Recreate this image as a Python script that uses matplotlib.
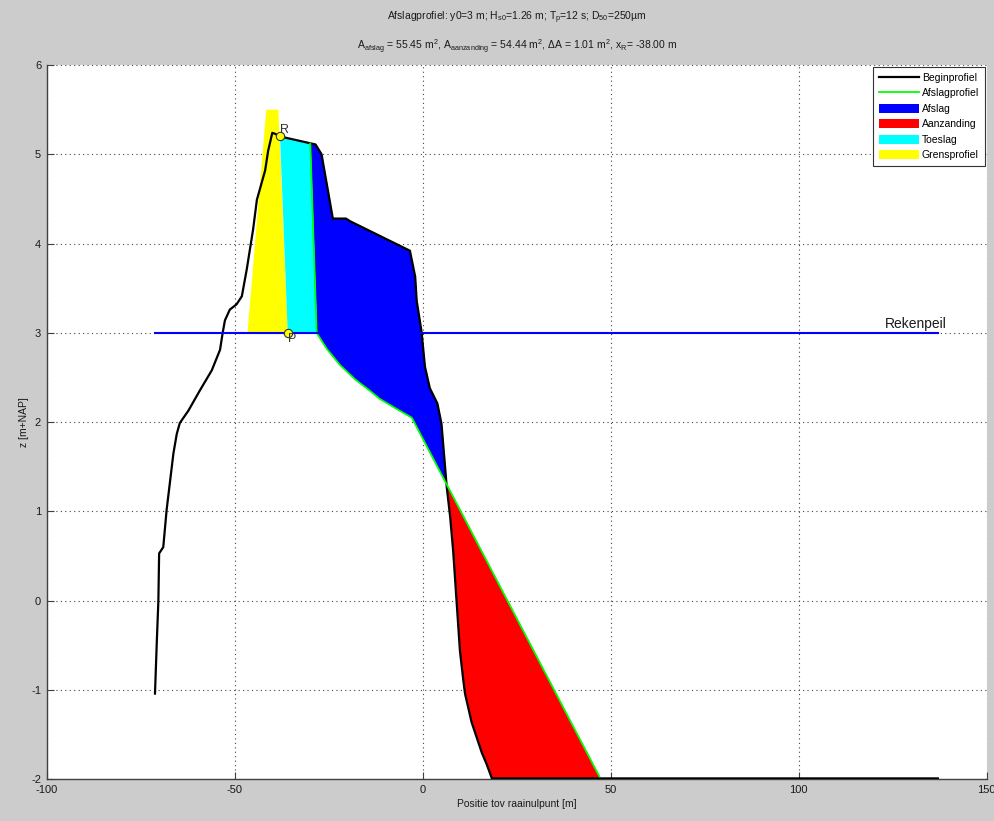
import numpy as np
import matplotlib
matplotlib.use('Agg')
import matplotlib.pyplot as plt
from matplotlib.patches import Patch
from matplotlib.lines import Line2D

plt.rcParams['font.family'] = ['Liberation Sans', 'DejaVu Sans']
plt.rcParams['mathtext.default'] = 'regular'
plt.rcParams['axes.unicode_minus'] = False

# ---- data ----
begin_x = [-71.2, -70.7, -70.3, -70.1, -69.0, -68.1, -66.3, -65.4, -64.6, -62.3,
           -59.2, -56.1, -53.9, -53.2, -52.6, -51.3, -49.5, -48.1, -46.8, -45.1,
           -44.1, -43.3, -41.9, -41.1, -40.0, -39.3, -37.95, -28.5, -26.9, -23.9,
           -20.4, -19.3, -3.4, -2.0, -1.6, -0.3, 0.6, 1.9, 3.9, 5.0,
           6.4, 7.3, 8.1, 9.0, 9.9, 10.8, 11.25, 13.0, 15.7, 17.0,
           18.4, 137.0]
begin_z = [-1.04, -0.44, 0.0, 0.53, 0.60, 1.02, 1.65, 1.87, 1.99, 2.13,
           2.36, 2.58, 2.81, 3.00, 3.14, 3.26, 3.32, 3.41, 3.71, 4.16,
           4.49, 4.61, 4.82, 5.04, 5.24, 5.23, 5.20, 5.11, 5.00, 4.28,
           4.28, 4.25, 3.92, 3.63, 3.36, 3.01, 2.62, 2.38, 2.21, 1.98,
           1.27, 0.94, 0.56, 0.0, -0.56, -0.89, -1.04, -1.36, -1.70, -1.83,
           -1.99, -1.99]

afslag_x = [-29.9, -28.2, -25.5, -22.0, -18.0, -14.0, -11.4, -7.0, -2.9, 47.0]
afslag_z = [5.12, 3.00, 2.82, 2.64, 2.48, 2.35, 2.26, 2.15, 2.05, -1.97]

grens_x = [-46.6, -41.6, -38.4, -35.9]
grens_z = [3.0, 5.5, 5.5, 3.0]

rekenpeil = 3.0
x_R, z_R = -37.95, 5.20
x_P, z_P = -35.9, 3.0

title1 = r'Afslagprofiel: y0=3 m; H$_{s0}$=1.26 m; T$_{p}$=12 s; D$_{50}$=250µm'
title2 = (r'A$_{afslag}$ = 55.45 m$^{2}$, A$_{aanzanding}$ = 54.44 m$^{2}$, '
          r'ΔA = 1.01 m$^{2}$, x$_{R}$= -38.00 m')

xticks = [-100, -50, 0, 50, 100, 150]
yticks = [-2, -1, 0, 1, 2, 3, 4, 5, 6]

# ---- figure ----
fig = plt.figure(figsize=(9.95, 8.21), dpi=100, facecolor='#cccccc')
ax = fig.add_axes([46.7 / 995, 1 - 779.3 / 821, 940 / 995, 714.3 / 821])
ax.set_facecolor('white')

bx = np.array(begin_x)
bz = np.array(begin_z)
axx = np.array(afslag_x)
azz = np.array(afslag_z)

# Grensprofiel
ax.fill(grens_x, grens_z, color='#ffff00', lw=0, zorder=1)

# Toeslag polygon
m = (bx > x_R) & (bx < axx[0])
tx = [x_R] + list(bx[m]) + [axx[0], axx[1], x_P]
tz = [z_R] + list(bz[m]) + [azz[0], azz[1], z_P]
ax.fill(tx, tz, color='#00ffff', lw=0, zorder=2)

# Afslag / Aanzanding
xs = np.union1d(np.union1d(bx, axx), np.linspace(axx[0], axx[-1], 2000))
xs = xs[(xs >= axx[0]) & (xs <= axx[-1])]
zb = np.interp(xs, bx, bz)
za = np.interp(xs, axx, azz)
ax.fill_between(xs, zb, za, where=zb >= za, interpolate=True, color='#0000ff', lw=0, zorder=2)
ax.fill_between(xs, zb, za, where=zb <= za, interpolate=True, color='#ff0000', lw=0, zorder=2)

# lines
ax.plot(bx, bz, color='black', lw=1.6, zorder=4, solid_joinstyle='round')
ax.plot(axx, azz, color='#00ff00', lw=1.3, zorder=5)
ax.plot([bx[0], bx[-1]], [rekenpeil, rekenpeil], color='#0000ff', lw=1.5, zorder=6)
ax.text(139.5, rekenpeil + 0.02, 'Rekenpeil', ha='right', va='bottom', fontsize=10, color='#1a1a1a', zorder=7)

# R and P markers
ax.plot([x_R], [z_R], 'o', ms=6, mfc='#ffff00', mec='#333333', mew=0.8, zorder=8)
ax.plot([x_P], [z_P], 'o', ms=6, mfc='#ffff00', mec='#333333', mew=0.8, zorder=8)
ax.text(x_R, z_R, 'R', ha='left', va='bottom', fontsize=9, color='#333333', zorder=8)
ax.text(x_P, z_P, 'P', ha='left', va='top', fontsize=9, color='#333333', zorder=8)

# axes styling
ax.set_xlim(-100, 150)
ax.set_ylim(-2, 6)
ax.set_xticks(xticks)
ax.set_yticks(yticks)
ax.grid(True, color='#444444', linestyle=(0, (1, 3)), lw=0.8)
ax.set_axisbelow(True)
for s in ['top', 'right']:
    ax.spines[s].set_visible(False)
for s in ['left', 'bottom']:
    ax.spines[s].set_color('#404040')
    ax.spines[s].set_linewidth(1.0)
ax.tick_params(direction='in', length=5, width=0.8, color='#404040', labelsize=8,
               labelcolor='#1a1a1a', pad=4)
ax.set_xlabel('Positie tov raainulpunt [m]', fontsize=7.5, color='#1a1a1a', labelpad=3)
ax.set_ylabel('z [m+NAP]', fontsize=7.5, color='#1a1a1a', labelpad=1.5)

# legend
handles = [Line2D([], [], color='black', lw=1.6),
           Line2D([], [], color='#00ff00', lw=1.3),
           Patch(facecolor='#0000ff', edgecolor='none'),
           Patch(facecolor='#ff0000', edgecolor='none'),
           Patch(facecolor='#00ffff', edgecolor='none'),
           Patch(facecolor='#ffff00', edgecolor='none')]
labels = ['Beginprofiel', 'Afslagprofiel', 'Afslag', 'Aanzanding', 'Toeslag', 'Grensprofiel']
leg = ax.legend(handles, labels, loc='upper right', fontsize=7.5, frameon=True, fancybox=False,
                edgecolor='#333333', framealpha=1, borderaxespad=0.15, handlelength=3.8,
                handleheight=1.0, handletextpad=0.3, labelspacing=0.5, borderpad=0.6)
leg.get_frame().set_linewidth(0.8)

# titles
cx = (46.7 + 986.7) / 2 / 995
fig.text(cx, 1 - 18 / 821, title1, ha='center', va='center', fontsize=7.5, color='#1a1a1a')
fig.text(cx, 1 - 47 / 821, title2, ha='center', va='center', fontsize=7.5, color='#1a1a1a')

fig.savefig('out.png', dpi=100, facecolor=fig.get_facecolor())
